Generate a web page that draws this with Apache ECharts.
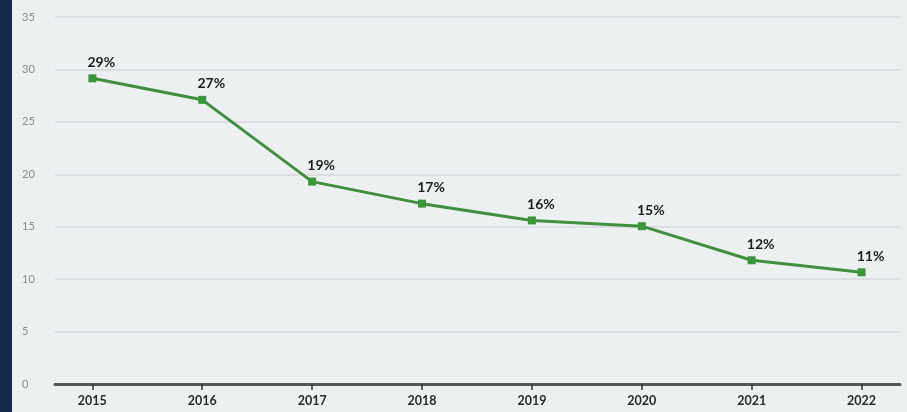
<!DOCTYPE html>
<html><head><meta charset="utf-8">
<script src="https://cdn.jsdelivr.net/npm/echarts@6/dist/echarts.min.js"></script>
<style>
html,body{margin:0;padding:0;background:#13294b;width:907px;height:412px;overflow:hidden}
#c{position:absolute;left:12px;top:0;width:895px;height:412px;background:#edf0f1}
</style></head><body><div id="c"></div>
<script>
const years = [2015, 2016, 2017, 2018, 2019, 2020, 2021, 2022];
const values = [29.15, 27.1, 19.3, 17.2, 15.6, 15.05, 11.8, 10.65];
const pctLabels = ['29%', '27%', '19%', '17%', '16%', '15%', '12%', '11%'];
const yTicks = [0, 5, 10, 15, 20, 25, 30, 35];

const chart = echarts.init(document.getElementById('c'));
chart.setOption({
  animation: false,
  grid: { left: 43, right: 7, top: 17, bottom: 28 },
  xAxis: {
    type: 'value', min: 2014.66, max: 2022.35,
    axisLine: { show: true, onZero: false, lineStyle: { color: '#555', width: 3 } },
    axisTick: { show: true, customValues: years, length: 6, lineStyle: { color: '#333', width: 1.5 } },
    axisLabel: { customValues: years, formatter: v => String(v), color: '#2a2a2a', fontWeight: 'bold', fontSize: 12.5, fontFamily: 'Lato', margin: 10 },
    splitLine: { show: false }
  },
  yAxis: {
    type: 'value', min: 0, max: 35, interval: 5,
    axisLine: { show: false }, axisTick: { show: false },
    axisLabel: { align: 'left', margin: 33, color: '#8a8a8a', fontSize: 11, fontFamily: 'Lato', customValues: yTicks },
    splitLine: { lineStyle: { color: '#d6d9db', width: 1.5 } }
  },
  series: [{
    type: 'line',
    data: years.map((y, i) => [y, values[i]]),
    symbol: 'rect', symbolSize: 8,
    itemStyle: { color: '#3a963a' },
    lineStyle: { color: '#3f8f3f', width: 3 },
    label: {
      show: true, position: 'top', distance: 5, offset: [9, 0],
      formatter: p => pctLabels[p.dataIndex],
      color: '#1e1e1e', fontWeight: 'bold', fontSize: 14, fontFamily: 'Lato'
    }
  }]
});
</script></body></html>
